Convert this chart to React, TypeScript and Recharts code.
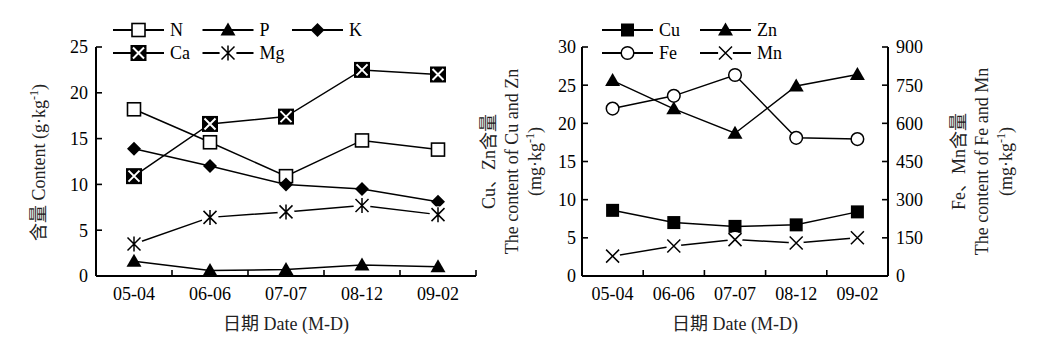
import React from 'react';
import { LineChart, Line, XAxis, YAxis, Legend } from 'recharts';

const dates = ['05-04', '06-06', '07-07', '08-12', '09-02'];
const nValues = [18.2, 14.6, 10.9, 14.8, 13.8];
const pValues = [1.6, 0.6, 0.7, 1.2, 1.0];
const kValues = [13.9, 12.0, 10.0, 9.5, 8.1];
const caValues = [10.9, 16.6, 17.4, 22.5, 22.0];
const mgValues = [3.5, 6.4, 7.0, 7.7, 6.7];
const cuValues = [8.6, 7.0, 6.5, 6.7, 8.4];
const znValues = [25.6, 21.9, 18.7, 24.9, 26.4];
const feValues = [658, 708, 790, 543, 538];
const mnValues = [78, 118, 143, 130, 150];
const macroTicks = [0, 5, 10, 15, 20, 25];
const microLeftTicks = [0, 5, 10, 15, 20, 25, 30];
const microRightTicks = [0, 150, 300, 450, 600, 750, 900];
const macroSeries = ['N', 'P', 'K', 'Ca', 'Mg'];
const microSeries = ['Cu', 'Zn', 'Fe', 'Mn'];

const macroData = dates.map((d, i) => ({ date: d, N: nValues[i], P: pValues[i], K: kValues[i], Ca: caValues[i], Mg: mgValues[i] }));
const microData = dates.map((d, i) => ({ date: d, Cu: cuValues[i], Zn: znValues[i], Fe: feValues[i], Mn: mnValues[i] }));

const FONT = "'Liberation Serif', 'Times New Roman', 'Noto Sans CJK SC', serif";
const FS = 18;
const TICK_MARGIN = 11;
const Y_TICK_MARGIN = 8;
const TICK_LEN = 6;

type MarkerFn = (cx: number, cy: number) => React.ReactElement;

const markers: Record<string, MarkerFn> = {
  N: (cx, cy) => <rect x={cx - 6.5} y={cy - 6.5} width={13} height={13} fill="#fff" stroke="#000" strokeWidth={1.6} />,
  P: (cx, cy) => <polygon points={`${cx},${cy - 7.5} ${cx + 7.5},${cy + 5.5} ${cx - 7.5},${cy + 5.5}`} fill="#000" />,
  K: (cx, cy) => <polygon points={`${cx},${cy - 7} ${cx + 7},${cy} ${cx},${cy + 7} ${cx - 7},${cy}`} fill="#000" />,
  Ca: (cx, cy) => (
    <g>
      <rect x={cx - 8} y={cy - 8} width={16} height={16} fill="#000" />
      <path d={`M${cx - 5.5},${cy - 5.5}L${cx + 5.5},${cy + 5.5}M${cx - 5.5},${cy + 5.5}L${cx + 5.5},${cy - 5.5}`} stroke="#fff" strokeWidth={2} />
    </g>
  ),
  Mg: (cx, cy) => (
    <g>
      <circle cx={cx} cy={cy} r={8.5} fill="#fff" />
      <path d={`M${cx - 6.5},${cy - 6.5}L${cx + 6.5},${cy + 6.5}M${cx - 6.5},${cy + 6.5}L${cx + 6.5},${cy - 6.5}M${cx},${cy - 7.5}L${cx},${cy + 7.5}`} stroke="#000" strokeWidth={1.5} />
    </g>
  ),
  Cu: (cx, cy) => <rect x={cx - 6.5} y={cy - 6.5} width={13} height={13} fill="#000" />,
  Zn: (cx, cy) => <polygon points={`${cx},${cy - 7.5} ${cx + 7.5},${cy + 5.5} ${cx - 7.5},${cy + 5.5}`} fill="#000" />,
  Fe: (cx, cy) => <circle cx={cx} cy={cy} r={6.3} fill="#fff" stroke="#000" strokeWidth={1.5} />,
  Mn: (cx, cy) => (
    <g>
      <circle cx={cx} cy={cy} r={7.5} fill="#fff" />
      <path d={`M${cx - 6.5},${cy - 6.5}L${cx + 6.5},${cy + 6.5}M${cx - 6.5},${cy + 6.5}L${cx + 6.5},${cy - 6.5}`} stroke="#000" strokeWidth={1.5} />
    </g>
  ),
};

const dotFor = (name: string) => (p: any) => (
  <g key={`${name}-${p.index}`}>{markers[name](p.cx, p.cy)}</g>
);

const makeXTick = (band: number, last: number) => (props: any) => {
  const { x, y, payload, index } = props;
  const axisY = y - TICK_MARGIN;
  return (
    <g>
      <text x={x} y={y} dy="0.71em" textAnchor="middle" fontFamily={FONT} fontSize={FS} fill="#000">
        {payload.value}
      </text>
      {index <= last ? (
        <line x1={x + band / 2} x2={x + band / 2} y1={axisY} y2={axisY - TICK_LEN} stroke="#000" strokeWidth={1.6} />
      ) : null}
    </g>
  );
};

const makeYTick = (side: 'left' | 'right', margin: number) => (props: any) => {
  const { x, y, payload } = props;
  const axisX = side === 'left' ? x + margin : x - margin;
  const dir = side === 'left' ? 1 : -1;
  return (
    <g>
      <text x={x} y={y} dy="0.355em" textAnchor={side === 'left' ? 'end' : 'start'} fontFamily={FONT} fontSize={FS} fill="#000">
        {payload.value}
      </text>
      <line x1={axisX} x2={axisX + dir * TICK_LEN} y1={y} y2={y} stroke="#000" strokeWidth={1.6} />
    </g>
  );
};

const RotatedTitle = ({ cx, cy, parts }: { cx: number; cy: number; parts: Array<{ t: string; sup?: boolean }> }) => (
  <text
    x={cx}
    y={cy}
    dy="0.35em"
    transform={`rotate(-90, ${cx}, ${cy})`}
    textAnchor="middle"
    fontFamily={FONT}
    fontSize={FS}
    fill="#222"
  >
    {parts.map((p, i) =>
      p.sup ? (
        <tspan key={i} dy={-7} fontSize={12}>{p.t}</tspan>
      ) : (
        <tspan key={i} dy={i > 0 && parts[i - 1].sup ? 7 : 0}>{p.t}</tspan>
      )
    )}
  </text>
);

const xTitle = (props: any) => {
  const vb = props.viewBox;
  return (
    <text x={vb.x + vb.width / 2} y={vb.y + 48} dy="0.35em" textAnchor="middle" fontFamily={FONT} fontSize={FS} fill="#222">
      日期 Date (M-D)
    </text>
  );
};

const makeLegend = (order: string[], startX: number, colStep: number, cols: number, width: number) => (props: any) => {
  const payload = props.payload || [];
  const names = order.filter((n) => payload.some((it: any) => String(it.value) === n));
  return (
    <svg width={width} height={70} style={{ display: 'block' }}>
      {names.map((name: string, i: number) => {
        const col = i % cols;
        const row = Math.floor(i / cols);
        const x0 = startX + col * colStep;
        const y0 = 30 + row * 23;
        return (
          <g key={name}>
            <line x1={x0} x2={x0 + 51} y1={y0} y2={y0} stroke="#000" strokeWidth={2} />
            {markers[name](x0 + 25.5, y0)}
            <text x={x0 + 57} y={y0} dy="0.35em" fontFamily={FONT} fontSize={FS} fill="#000">
              {name}
            </text>
          </g>
        );
      })}
    </svg>
  );
};

const LEFT_W = 500;
const LEFT_PLOT_W = 380;
const RIGHT_W = 579;
const RIGHT_PLOT_W = 306;

export default function App() {
  const lineProps = { stroke: '#000', strokeWidth: 1.5, isAnimationActive: false, type: 'linear' as const, activeDot: false as const };
  return (
    <div style={{ position: 'absolute', left: 0, top: 0, width: 1049, height: 351, background: '#fff' }}>
      <div style={{ position: 'absolute', left: 0, top: 0 }}>
        <LineChart width={LEFT_W} height={351} data={macroData} margin={{ top: 47, right: 24, bottom: 45, left: 56 }}>
          <XAxis
            dataKey="date"
            scale="band"
            interval={0}
            height={30}
            tickLine={false}
            tickSize={0}
            tickMargin={TICK_MARGIN}
            axisLine={{ stroke: '#000', strokeWidth: 2 }}
            tick={makeXTick(LEFT_PLOT_W / dates.length, dates.length - 1)}
            label={xTitle}
          />
          <YAxis
            width={40}
            domain={[0, 25]}
            ticks={macroTicks}
            interval={0}
            tickLine={false}
            tickSize={0}
            tickMargin={Y_TICK_MARGIN}
            axisLine={{ stroke: '#000', strokeWidth: 2 }}
            tick={makeYTick('left', Y_TICK_MARGIN)}
            label={(p: any) => (
              <RotatedTitle
                cx={p.viewBox.x - 11}
                cy={p.viewBox.y + p.viewBox.height / 2 + 1}
                parts={[{ t: '含量 Content (g·kg' }, { t: '-1', sup: true }, { t: ')' }]}
              />
            )}
          />
          <Legend layout="horizontal" verticalAlign="middle" align="center" wrapperStyle={{ position: 'absolute', top: 0, left: 0, width: LEFT_W, height: 70 }} content={makeLegend(macroSeries, 113, 89.5, 3, LEFT_W)} />
          {macroSeries.map((s) => (
            <Line key={s} dataKey={s} name={s} {...lineProps} dot={dotFor(s)} />
          ))}
        </LineChart>
      </div>
      <div style={{ position: 'absolute', left: 470, top: 0 }}>
        <LineChart width={RIGHT_W} height={351} data={microData} margin={{ top: 47, right: 116, bottom: 45, left: 72 }}>
          <XAxis
            dataKey="date"
            scale="band"
            interval={0}
            height={30}
            tickLine={false}
            tickSize={0}
            tickMargin={TICK_MARGIN}
            axisLine={{ stroke: '#000', strokeWidth: 2 }}
            tick={makeXTick(RIGHT_PLOT_W / dates.length, dates.length - 2)}
            label={xTitle}
          />
          <YAxis
            yAxisId="left"
            width={40}
            domain={[0, 30]}
            ticks={microLeftTicks}
            interval={0}
            tickLine={false}
            tickSize={0}
            tickMargin={Y_TICK_MARGIN - 2}
            axisLine={{ stroke: '#000', strokeWidth: 2 }}
            tick={makeYTick('left', Y_TICK_MARGIN - 2)}
            label={(p: any) => {
              const cy = p.viewBox.y + p.viewBox.height / 2;
              const x = p.viewBox.x;
              return (
                <g>
                  <RotatedTitle cx={x - 47} cy={cy} parts={[{ t: 'Cu、Zn含量' }]} />
                  <RotatedTitle cx={x - 24} cy={cy} parts={[{ t: 'The content of Cu and Zn' }]} />
                  <RotatedTitle cx={x - 1} cy={cy} parts={[{ t: '(mg·kg' }, { t: '-1', sup: true }, { t: ')' }]} />
                </g>
              );
            }}
          />
          <YAxis
            yAxisId="right"
            orientation="right"
            width={45}
            domain={[0, 900]}
            ticks={microRightTicks}
            interval={0}
            tickLine={false}
            tickSize={0}
            tickMargin={Y_TICK_MARGIN}
            axisLine={{ stroke: '#000', strokeWidth: 2 }}
            tick={makeYTick('right', Y_TICK_MARGIN)}
            label={(p: any) => {
              const cy = p.viewBox.y + p.viewBox.height / 2;
              const x = p.viewBox.x + p.viewBox.width;
              return (
                <g>
                  <RotatedTitle cx={x + 32} cy={cy} parts={[{ t: 'Fe、Mn含量' }]} />
                  <RotatedTitle cx={x + 55} cy={cy} parts={[{ t: 'The content of Fe and Mn' }]} />
                  <RotatedTitle cx={x + 79} cy={cy} parts={[{ t: '(mg·kg' }, { t: '-1', sup: true }, { t: ')' }]} />
                </g>
              );
            }}
          />
          <Legend layout="horizontal" verticalAlign="middle" align="center" wrapperStyle={{ position: 'absolute', top: 0, left: 0, width: RIGHT_W, height: 70 }} content={makeLegend(microSeries, 132, 98, 2, RIGHT_W)} />
          {microSeries.map((s) => (
            <Line key={s} yAxisId={s === 'Cu' || s === 'Zn' ? 'left' : 'right'} dataKey={s} name={s} {...lineProps} dot={dotFor(s)} />
          ))}
        </LineChart>
      </div>
    </div>
  );
}
